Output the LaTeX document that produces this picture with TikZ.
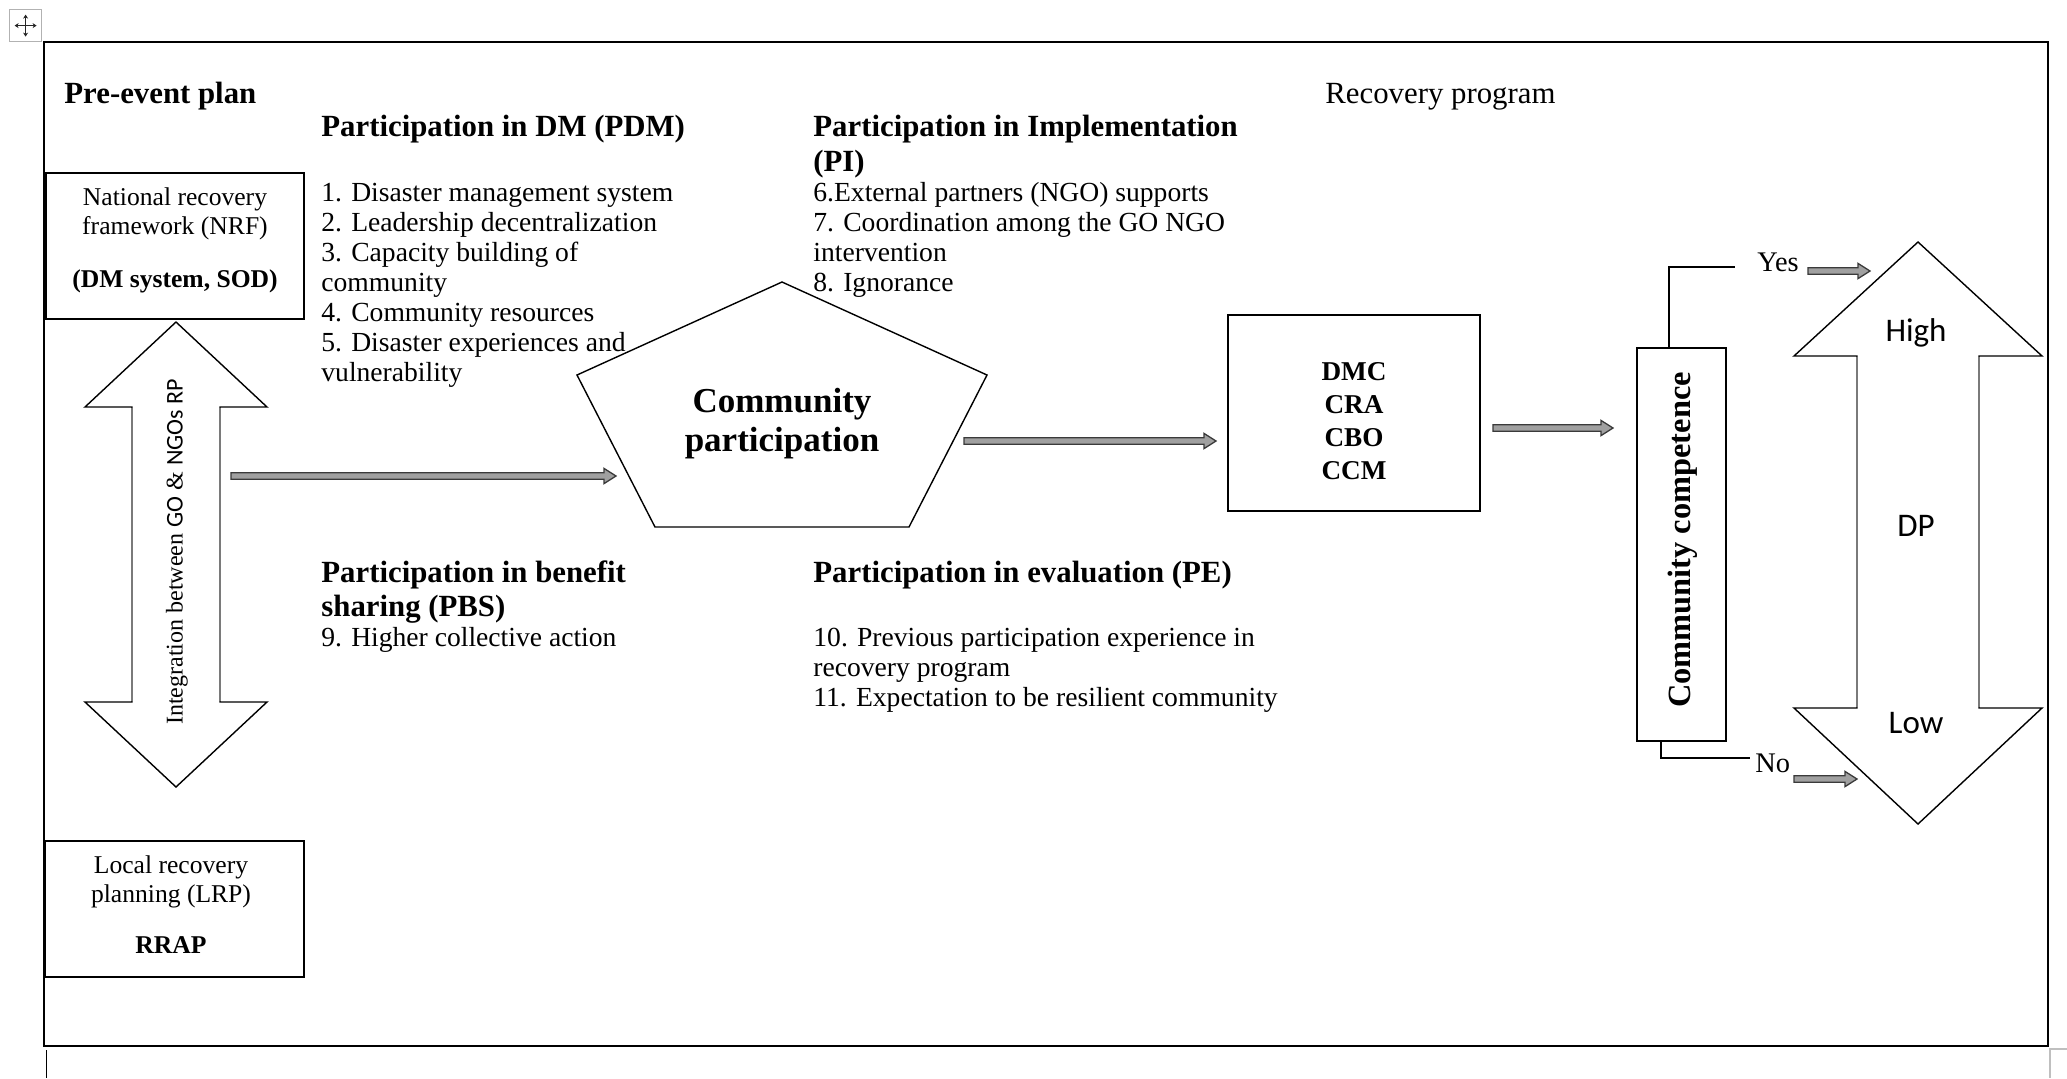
\documentclass[tikz,border=0pt]{standalone}
\usepackage{fontspec}
\setmainfont{Liberation Serif}
\newfontfamily\sansf{Carlito}
\usetikzlibrary{calc,arrows.meta}
\definecolor{afill}{HTML}{A0A0A0}
\definecolor{aline}{HTML}{3A3A3A}
\definecolor{shaftline}{HTML}{7A7A7A}
\newcommand\blockarrow[2]{%
  \path let \p1=(#1), \p2=(#2) in [draw=aline, fill=afill, line width=0.65pt, line join=miter]
  (\x1,\y1+1.6pt) -- (\x2-6pt,\y1+1.6pt) -- (\x2-6pt,\y1+3.8pt) -- (\x2,\y1)
  -- (\x2-6pt,\y1-3.8pt) -- (\x2-6pt,\y1-1.6pt) -- (\x1,\y1-1.6pt) -- cycle;}
\tikzset{
  bodytxt/.style={anchor=base west, inner sep=0pt, font=\fontsize{13.8}{15}\selectfont},
  headtxt/.style={anchor=base west, inner sep=0pt, font=\fontsize{15.4}{17}\selectfont\bfseries},
  boxtxt/.style={anchor=base, inner sep=0pt, font=\fontsize{12.8}{14}\selectfont},
  boxbold/.style={anchor=base, inner sep=0pt, font=\fontsize{12.8}{14}\selectfont\bfseries},
  dmctxt/.style={anchor=base, inner sep=0pt, font=\fontsize{13.6}{15}\selectfont\bfseries},
  cptxt/.style={anchor=base, inner sep=0pt, font=\fontsize{17.5}{19}\selectfont\bfseries},
  sanstxt/.style={anchor=base, inner sep=0pt, font=\fontsize{16.5}{18}\selectfont\sansf},
  yntxt/.style={anchor=base west, inner sep=0pt, font=\fontsize{14.2}{16}\selectfont},
  boxshape/.style={draw, line width=0.8pt, inner sep=0pt, outer sep=0pt, anchor=north west},
  bigarrow/.style={draw, line width=0.7pt, line join=miter},
  shaftedge/.style={draw=shaftline, line width=1pt},
  thinline/.style={draw, line width=0.6pt}
}
\begin{document}
\begin{tikzpicture}[x=0.5pt,y=-0.5pt]
\useasboundingbox (0,0) rectangle (2067,1078);
\fill[white] (0,0) rectangle (2067,1078);

% move icon (layout handle)
\node[draw=gray!60, line width=0.6pt, minimum size=16pt, inner sep=0pt, anchor=north west] (icon) at (9,9) {};
\draw[gray!30!black, line width=0.5pt, {Stealth[length=2pt,width=2.5pt]}-{Stealth[length=2pt,width=2.5pt]}]
  ($(icon.center)+(-11,0)$) -- ($(icon.center)+(11,0)$);
\draw[gray!30!black, line width=0.5pt, {Stealth[length=2pt,width=2.5pt]}-{Stealth[length=2pt,width=2.5pt]}]
  ($(icon.center)+(0,-11)$) -- ($(icon.center)+(0,11)$);

% outer frame
\node[draw, line width=1pt, inner sep=0pt, outer sep=0pt, anchor=north west,
      minimum width=1002pt, minimum height=502pt] (frame) at (44,42) {};
\draw[line width=0.5pt] (46,1050) -- (46,1078);
\draw[gray!50, line width=0.6pt] (2050,1078) -- (2050,1049) -- (2067,1049);

% headings and lists
\node[headtxt] (pre) at (64,103) {Pre-event plan};
\node[anchor=base west, inner sep=0pt, font=\fontsize{15.4}{17}\selectfont] (rec) at (1325,103) {Recovery program};

\node[headtxt] (pdmh) at (321,136) {Participation in DM (PDM)};
\foreach \txt [count=\i] in {1. Disaster management system, 2. Leadership decentralization,
  3. Capacity building of, community, 4. Community resources, 5. Disaster experiences and, vulnerability}
  \node[bodytxt] (pdm\i) at (321,{171+30*\i}) {\txt};

\node[headtxt] (pih1) at (813,136) {Participation in Implementation};
\node[headtxt] (pih2) at (813,171) {(PI)};
\foreach \txt [count=\i] in {6.External partners (NGO) supports, 7. Coordination among the GO NGO,
  intervention, 8. Ignorance}
  \node[bodytxt] (pi\i) at (813,{171+30*\i}) {\txt};

\node[headtxt] (pbs1) at (321,582) {Participation in benefit};
\node[headtxt] (pbs2) at (321,616) {sharing (PBS)};
\node[bodytxt] (pbs3) at (321,646) {9. Higher collective action};

\node[headtxt] (peh) at (813,582) {Participation in evaluation (PE)};
\foreach \txt [count=\i] in {10. Previous participation experience in, recovery program,
  11. Expectation to be resilient community}
  \node[bodytxt] (pe\i) at (813,{616+30*\i}) {\txt};

% NRF box
\node[boxshape, minimum width=129pt, minimum height=73pt] (nrf) at (46,173) {};
\node[boxtxt] (nrf1) at (175,205) {National recovery};
\node[boxtxt] (nrf2) at (175,234) {framework (NRF)};
\node[boxbold] (nrf3) at (175,287) {(DM system, SOD)};

% LRP box
\node[boxshape, minimum width=129.5pt, minimum height=68pt] (lrp) at (45,841) {};
\node[boxtxt] (lrp1) at (171,873) {Local recovery};
\node[boxtxt] (lrp2) at (171,902) {planning (LRP)};
\node[boxbold] (lrp3) at (171,953) {RRAP};

% left double arrow
\draw[bigarrow] (176,322) -- (267,407) -- (220,407) -- (220,702) -- (267,702) -- (176,787)
  -- (85,702) -- (132,702) -- (132,407) -- (85,407) -- cycle;
\draw[shaftedge] (132,408) -- (132,701);
\draw[shaftedge] (220,408) -- (220,701);
\node[rotate=90, inner sep=0pt, font=\fontsize{12}{14}\selectfont] (intg) at (177,552)
  {Integration between {\sansf GO} \& {\sansf NGOs RP}};

% pentagon
\coordinate (p1) at (782,282);
\coordinate (p2) at (987,375);
\coordinate (p3) at (909,527);
\coordinate (p4) at (655,527);
\coordinate (p5) at (577,375);
\draw[line width=0.7pt, line join=miter] (p1) -- (p2) -- (p3) -- (p4) -- (p5) -- cycle;
\node[cptxt] (cp1) at (782,412) {Community};
\node[cptxt] (cp2) at (782,451) {participation};

% DMC box
\node[boxshape, minimum width=126pt, minimum height=98pt] (dmc) at (1228,315) {};
\node[dmctxt] (d1) at (1354,380) {DMC};
\node[dmctxt] (d2) at (1354,413) {CRA};
\node[dmctxt] (d3) at (1354,446) {CBO};
\node[dmctxt] (d4) at (1354,479) {CCM};

% Community competence box
\node[boxshape, minimum width=44.5pt, minimum height=196.5pt] (cc) at (1637,348) {};
\node[rotate=90, inner sep=0pt, font=\fontsize{16.2}{18}\selectfont\bfseries] (cctxt) at (1683,540)
  {Community competence};

% DP double arrow
\draw[bigarrow] (1918,242) -- (2042,356) -- (1979,356) -- (1979,708) -- (2042,708) -- (1918,824)
  -- (1794,708) -- (1857,708) -- (1857,356) -- (1794,356) -- cycle;
\draw[shaftedge] (1857,357) -- (1857,707);
\draw[shaftedge] (1979,357) -- (1979,707);
\node[sanstxt] (high) at (1916,341) {High};
\node[sanstxt] (dp) at (1916,536) {DP};
\node[sanstxt] (low) at (1916,733) {Low};

% thin block arrows
\coordinate (a1s) at (231,476); \coordinate (a1e) at (616,476);
\coordinate (a2s) at (964,441); \coordinate (a2e) at (1216,441);
\coordinate (a3s) at (1493,428); \coordinate (a3e) at (1613,428);
\coordinate (ys) at (1808,271); \coordinate (ye) at (1870,271);
\coordinate (ns) at (1794,779); \coordinate (ne) at (1857,779);
\blockarrow{a1s}{a1e}
\blockarrow{a2s}{a2e}
\blockarrow{a3s}{a3e}
\blockarrow{ys}{ye}
\blockarrow{ns}{ne}

% yes / no branches
\coordinate (yend) at (1735,267);
\coordinate (nend) at (1750,758);
\draw[thinline] ($(cc.north west)+(32,0)$) |- (yend);
\draw[thinline] ($(cc.south west)+(24,0)$) |- (nend);
\node[yntxt] (yes) at (1757,271) {Yes};
\node[yntxt] (no) at (1755,772) {No};
\end{tikzpicture}
\end{document}
